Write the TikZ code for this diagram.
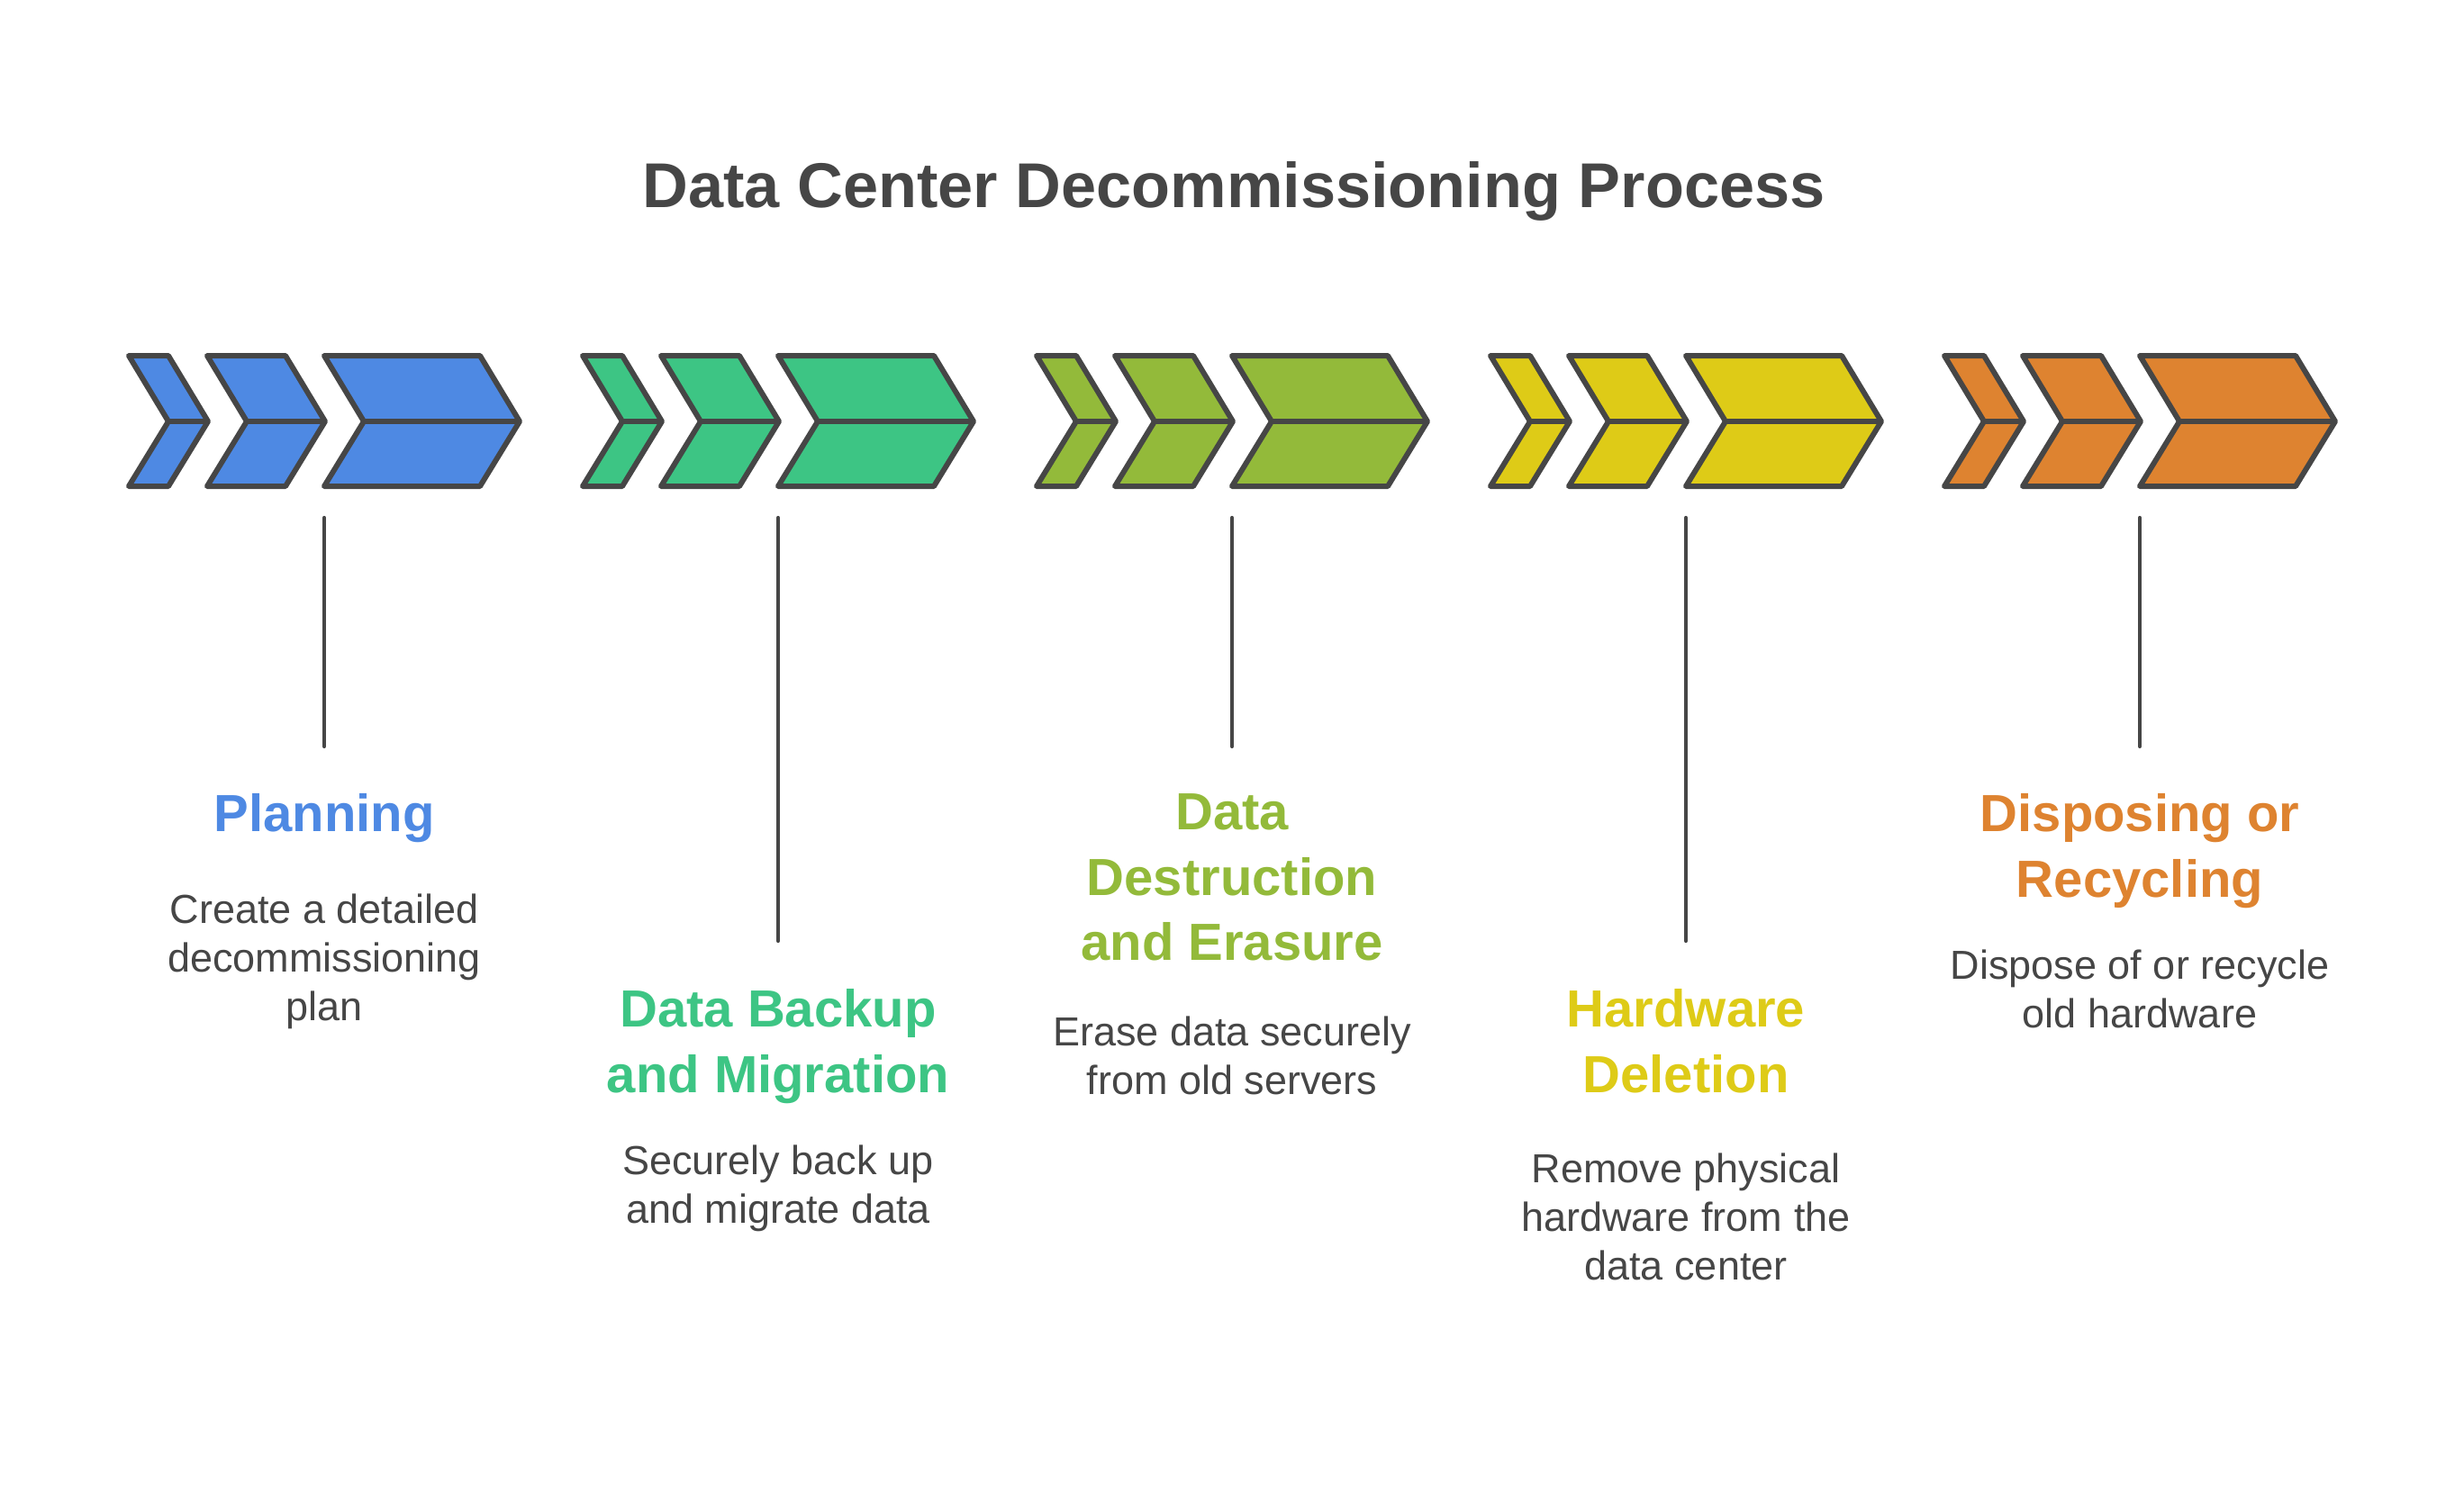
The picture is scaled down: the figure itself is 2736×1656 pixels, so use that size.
\documentclass[tikz,border=0pt]{standalone}
\usepackage{fontspec}
\setmainfont{Liberation Sans}
\usepackage{tikz}
\usetikzlibrary{positioning}
\usepackage{xcolor}
\definecolor{inkgray}{RGB}{70,70,70}
\definecolor{planblue}{RGB}{78,137,227}
\definecolor{backupgreen}{RGB}{61,197,132}
\definecolor{erasegreen}{RGB}{147,186,58}
\definecolor{hwyellow}{RGB}{222,203,23}
\definecolor{disporange}{RGB}{222,131,48}

% one chevron: left edge, top width, fill
\newcommand{\chevron}[3]{%
  \draw[chev, fill=#3] (#1,395) -- ++(#2,0) -- ++(44,73) -- ++(-44,72)
    -- ++(-#2,0) -- ++(44,-72) -- cycle;
  \draw[chev] (#1+44,468) -- ++(#2,0);}
% three chevrons of one step
\newcommand{\chevrongroup}[2]{%
  \chevron{143+#1}{44}{#2}
  \chevron{230+#1}{87}{#2}
  \chevron{360+#1}{173}{#2}}

\begin{document}
\begin{tikzpicture}[x=0.01cm, y=-0.01cm,
  chev/.style={draw=inkgray, line width=1.7pt, line join=round},
  stem/.style={draw=inkgray, line width=1.2pt, line cap=round},
  heading/.style={font=\fontsize{16.5}{20.6}\selectfont\bfseries, align=center, anchor=north, inner sep=0pt},
  body/.style={font=\fontsize{12.8}{15.4}\selectfont, text=inkgray, align=center, anchor=north, inner sep=0pt}]
  \useasboundingbox (0,0) rectangle (2736,1656);

  \node[font=\fontsize{20}{24}\selectfont\bfseries, text=inkgray, anchor=base] (title) at (1370,230) {Data Center Decommissioning Process};

  \chevrongroup{0}{planblue}
  \chevrongroup{504}{backupgreen}
  \chevrongroup{1008}{erasegreen}
  \chevrongroup{1512}{hwyellow}
  \chevrongroup{2016}{disporange}

  \coordinate (stem1a) at (360,575);
  \coordinate (stem1b) at (360,829);
  \coordinate (stem2a) at (864,575);
  \coordinate (stem2b) at (864,1045);
  \coordinate (stem3a) at (1368,575);
  \coordinate (stem3b) at (1368,829);
  \coordinate (stem4a) at (1872,575);
  \coordinate (stem4b) at (1872,1045);
  \coordinate (stem5a) at (2376,575);
  \coordinate (stem5b) at (2376,829);
  \draw[stem] (stem1a) -- (stem1b);
  \draw[stem] (stem2a) -- (stem2b);
  \draw[stem] (stem3a) -- (stem3b);
  \draw[stem] (stem4a) -- (stem4b);
  \draw[stem] (stem5a) -- (stem5b);

  \node[heading, text=planblue] (planning) at (360,881) {Planning};
  \node[body] (planningtxt) at (360,992) {Create a detailed\\decommissioning\\plan};
  \node[heading, text=backupgreen] (backup) at (864,1098) {Data Backup\\and Migration};
  \node[body] (backuptxt) at (864,1271) {Securely back up\\and migrate data};
  \node[heading, text=erasegreen] (erasure) at (1368,881) {Data\\Destruction\\and Erasure};
  \node[body] (erasuretxt) at (1368,1128) {Erase data securely\\from old servers};
  \node[heading, text=hwyellow] (deletion) at (1872,1098) {Hardware\\Deletion};
  \node[body] (deletiontxt) at (1872,1280) {Remove physical\\hardware from the\\data center};
  \node[heading, text=disporange] (recycling) at (2376,881) {Disposing or\\Recycling};
  \node[body] (recyclingtxt) at (2376,1054) {Dispose of or recycle\\old hardware};
\end{tikzpicture}
\end{document}
